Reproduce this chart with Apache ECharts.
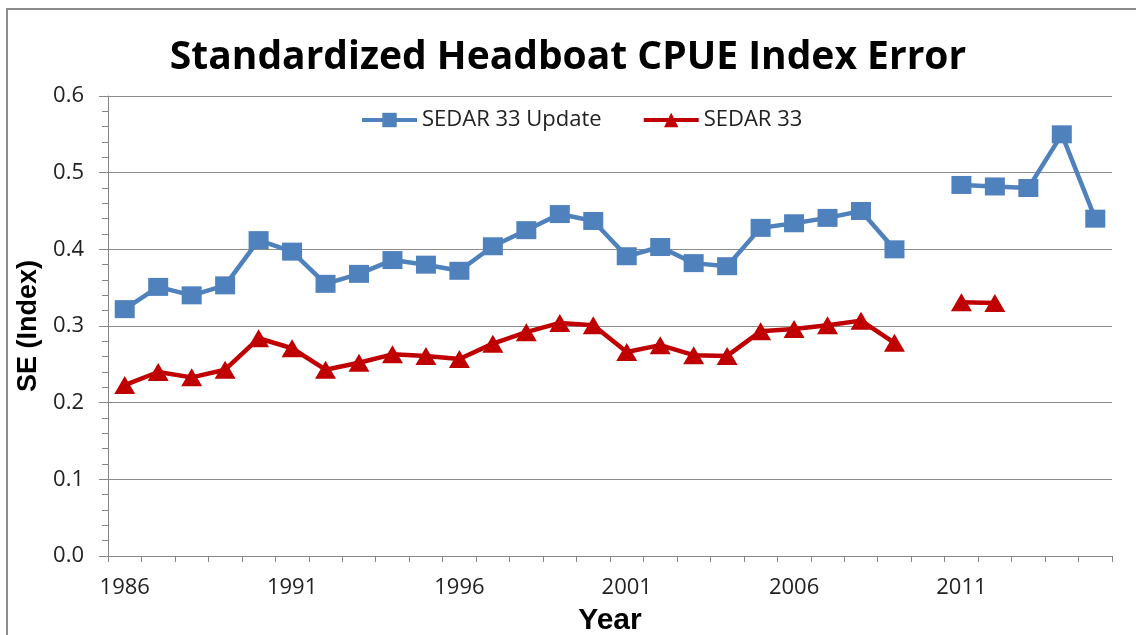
<!DOCTYPE html>
<html>
<head>
<meta charset="utf-8">
<script src="https://cdn.jsdelivr.net/npm/echarts@6/dist/echarts.min.js"></script>
<style>
  html, body { margin: 0; padding: 0; background: #fff; }
  #chart { position: absolute; left: 0; top: 0; width: 1136px; height: 635px; }
  #frame { position: absolute; left: 6px; top: 8px; width: 1140px; height: 640px;
           border-left: 2px solid #8c8c8c; border-top: 2px solid #8c8c8c; pointer-events: none; }
</style>
</head>
<body>
<div id="chart"></div>
<div id="frame"></div>
<script>
// years on the category axis
var years = [];
for (var y = 1986; y <= 2015; y++) years.push(String(y));

// SE values (null = no estimate that year)
var updateSE = [0.322, 0.351, 0.340, 0.353, 0.412, 0.397, 0.355, 0.368, 0.386, 0.380,
                0.372, 0.404, 0.425, 0.446, 0.437, 0.391, 0.403, 0.382, 0.378, 0.428,
                0.434, 0.441, 0.450, 0.400, null, 0.484, 0.482, 0.480, 0.550, 0.440];
var sedar33SE = [0.223, 0.240, 0.233, 0.243, 0.284, 0.271, 0.243, 0.252, 0.263, 0.261,
                 0.257, 0.277, 0.292, 0.304, 0.301, 0.266, 0.275, 0.262, 0.261, 0.293,
                 0.296, 0.301, 0.307, 0.278, null, 0.331, 0.330, null, null, null];

var chart = echarts.init(document.getElementById("chart"));
var tickFont = "'Open Sans', sans-serif";

var option = {
  animation: false,
  backgroundColor: "#fff",
  title: {
    text: "Standardized Headboat CPUE Index Error",
    left: "center",
    top: 33,
    textStyle: { fontFamily: "'Open Sans', sans-serif", fontWeight: "bold", fontSize: 39, color: "#000" }
  },
  legend: {
    top: 104,
    left: 355,
    itemWidth: 55,
    itemHeight: 18,
    itemGap: 40,
    lineStyle: { width: 4 },
    textStyle: { fontFamily: tickFont, fontSize: 22, color: "#222" },
    data: ["SEDAR 33 Update", "SEDAR 33"]
  },
  grid: { left: 108, right: 24, top: 96, bottom: 79, outerBoundsMode: "none" },
  xAxis: {
    type: "category",
    data: years,
    name: "Year",
    nameLocation: "middle",
    nameGap: 50,
    nameTextStyle: { fontFamily: "Liberation Sans, Arial, sans-serif", fontWeight: "bold", fontSize: 30, color: "#000" },
    axisLine: { lineStyle: { color: "#868686", width: 1 } },
    axisTick: { show: true, interval: 0, length: 6, lineStyle: { color: "#868686" } },
    axisLabel: {
      interval: 4,
      margin: 21,
      fontFamily: tickFont, fontSize: 22, color: "#222"
    },
    splitLine: { show: false }
  },
  yAxis: {
    type: "value",
    min: 0,
    max: 0.6,
    interval: 0.1,
    name: "SE (Index)",
    nameLocation: "middle",
    nameGap: 64,
    nameTextStyle: { fontFamily: "Liberation Sans, Arial, sans-serif", fontWeight: "bold", fontSize: 27, color: "#000" },
    axisLine: { show: true, lineStyle: { color: "#868686", width: 1 } },
    axisTick: { show: true, length: 9, lineStyle: { color: "#868686" } },
    minorTick: { show: true, splitNumber: 5, length: 6, lineStyle: { color: "#868686" } },
    axisLabel: {
      margin: 24,
      fontFamily: tickFont, fontSize: 22, color: "#222",
      formatter: function (v) { return v.toFixed(1); }
    },
    splitLine: { lineStyle: { color: "#8c8c8c", width: 1 } }
  },
  series: [
    {
      name: "SEDAR 33 Update",
      type: "line",
      data: updateSE,
      connectNulls: false,
      color: "#4F81BD",
      lineStyle: { width: 4.5 },
      symbol: "rect",
      symbolSize: [20, 18],
      itemStyle: { color: "#4F81BD" }
    },
    {
      name: "SEDAR 33",
      type: "line",
      data: sedar33SE,
      connectNulls: false,
      color: "#C00000",
      lineStyle: { width: 4.5 },
      symbol: "triangle",
      symbolSize: [21, 18],
      itemStyle: { color: "#C00000" }
    }
  ]
};
chart.setOption(option);
</script>
</body>
</html>
